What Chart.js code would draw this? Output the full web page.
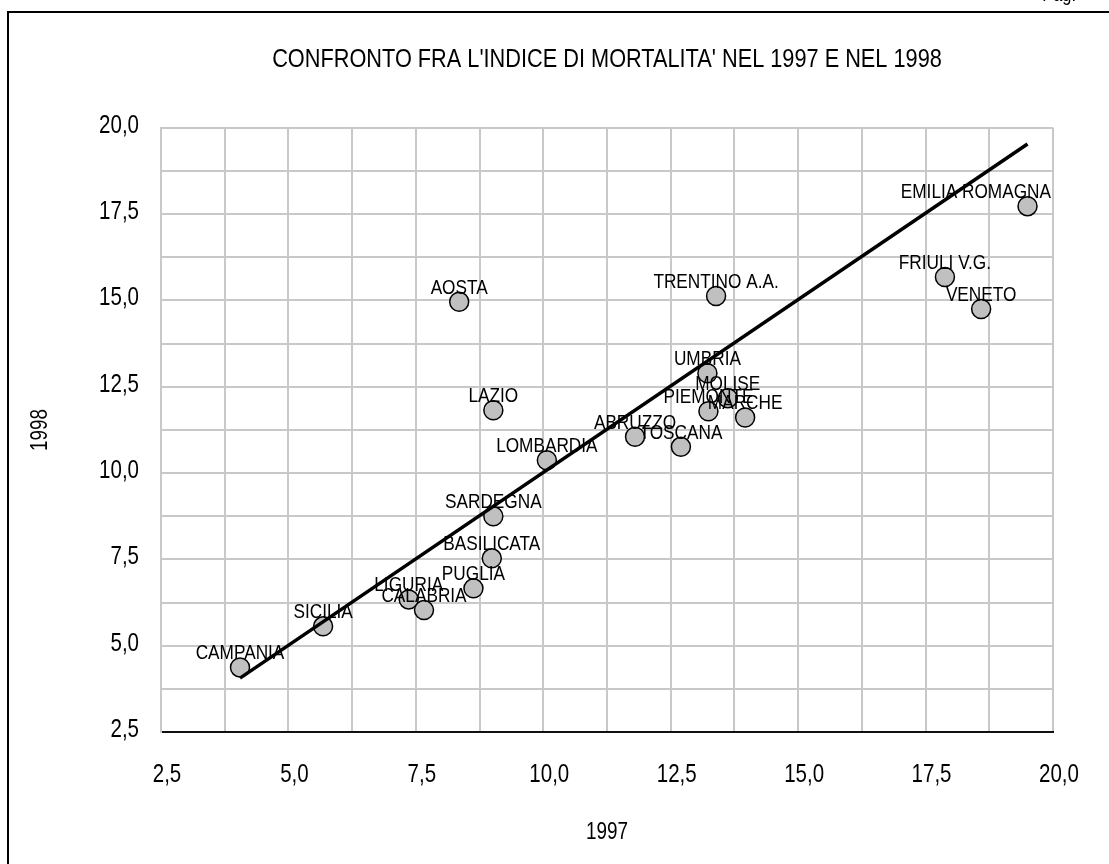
<!DOCTYPE html>
<html>
<head>
<meta charset="utf-8">
<title>Indice di mortalità 1997 / 1998</title>
<script src="https://cdn.jsdelivr.net/npm/chart.js@4.4.1/dist/chart.umd.min.js"></script>
<style>
  html, body { margin: 0; padding: 0; background: #ffffff; }
  #c { display: block; }
</style>
</head>
<body>
<canvas id="c" width="1109" height="864"></canvas>
<script>
// Regioni e indice di mortalità (1997 sull'asse x, 1998 sull'asse y)
const regions = ['CAMPANIA', 'SICILIA', 'LIGURIA', 'CALABRIA', 'PUGLIA', 'BASILICATA', 'SARDEGNA',
  'AOSTA', 'LAZIO', 'LOMBARDIA', 'ABRUZZO', 'TOSCANA', 'UMBRIA', 'PIEMONTE', 'MOLISE', 'MARCHE',
  'TRENTINO A.A.', 'FRIULI V.G.', 'VENETO', 'EMILIA ROMAGNA'];
const index1997 = [4.05, 5.68, 7.36, 7.66, 8.63, 8.99, 9.02,
  8.35, 9.02, 10.07, 11.80, 12.70, 13.22, 13.24, 13.62, 13.96,
  13.39, 17.88, 18.59, 19.50];
const index1998 = [4.37, 5.56, 6.34, 6.03, 6.66, 7.53, 8.75,
  14.96, 11.82, 10.37, 11.05, 10.76, 12.89, 11.79, 12.17, 11.61,
  15.13, 15.68, 14.75, 17.73];

// Retta di tendenza (estremi)
const trend1997 = [4.05, 19.50];
const trend1998 = [4.06, 19.53];

// Etichette degli assi
const tickLabels = ['2,5', '5,0', '7,5', '10,0', '12,5', '15,0', '17,5', '20,0'];
const axisMin = 2.5, axisMax = 20, gridStep = 1.25;

const FONT = "'Liberation Sans', Arial, sans-serif";
const GRID = '#c8c8c8';

// Testo stretto (tipo "narrow"): compressione orizzontale di tutto il testo del grafico
const canvas = document.getElementById('c');
const ctx2d = canvas.getContext('2d');
const SQUEEZE = 0.82;
const rawFillText = ctx2d.fillText.bind(ctx2d);
const rawMeasureText = ctx2d.measureText.bind(ctx2d);
ctx2d.fillText = function (text, x, y) {
  this.save();
  this.translate(x, y);
  this.scale(SQUEEZE, 1);
  rawFillText(text, 0, 0);
  this.restore();
};
ctx2d.measureText = function (text) {
  const m = rawMeasureText(text);
  return {
    width: m.width * SQUEEZE,
    actualBoundingBoxLeft: m.actualBoundingBoxLeft * SQUEEZE,
    actualBoundingBoxRight: m.actualBoundingBoxRight * SQUEEZE,
    actualBoundingBoxAscent: m.actualBoundingBoxAscent,
    actualBoundingBoxDescent: m.actualBoundingBoxDescent,
    fontBoundingBoxAscent: m.fontBoundingBoxAscent,
    fontBoundingBoxDescent: m.fontBoundingBoxDescent
  };
};

const scatterData = regions.map((r, i) => ({ x: index1997[i], y: index1998[i] }));
const trendData = trend1997.map((x, i) => ({ x, y: trend1998[i] }));

function tickText(v) {
  const k = Math.round((v - axisMin) / gridStep);
  return k % 2 === 0 ? tickLabels[k / 2] : '';
}

// Nomi delle regioni sopra i punti
const pointLabels = {
  id: 'pointLabels',
  afterDatasetsDraw(chart) {
    const { ctx, chartArea } = chart;
    const meta = chart.getDatasetMeta(1);
    ctx.save();
    ctx.font = '21px ' + FONT;
    ctx.fillStyle = '#000';
    ctx.textAlign = 'center';
    ctx.textBaseline = 'alphabetic';
    meta.data.forEach((pt, i) => {
      const txt = regions[i];
      const w = ctx.measureText(txt).width;
      let x = pt.x;
      if (x + w / 2 > chartArea.right - 2) x = chartArea.right - 2 - w / 2;
      ctx.fillText(txt, x, pt.y - 8);
    });
    ctx.restore();
  }
};

// Cornice della pagina e intestazione
const pageFrame = {
  id: 'pageFrame',
  afterDraw(chart) {
    const { ctx } = chart;
    ctx.save();
    ctx.strokeStyle = '#000';
    ctx.lineWidth = 2;
    ctx.beginPath();
    ctx.moveTo(8, 870);
    ctx.lineTo(8, 12);
    ctx.lineTo(1115, 12);
    ctx.stroke();
    ctx.font = '20px ' + FONT;
    ctx.fillStyle = '#000';
    ctx.textAlign = 'right';
    ctx.textBaseline = 'alphabetic';
    ctx.fillText('Pag.', 1076, 1);
    ctx.restore();
  }
};

new Chart(canvas, {
  type: 'scatter',
  data: {
    datasets: [
      {
        type: 'line',
        label: 'Tendenza',
        data: trendData,
        borderColor: '#000',
        borderWidth: 3.5,
        pointRadius: 0,
        fill: false,
        tension: 0
      },
      {
        label: 'Regioni',
        data: scatterData,
        pointRadius: 9.5,
        pointHoverRadius: 9.5,
        backgroundColor: '#c0c0c0',
        borderColor: '#000',
        borderWidth: 1.5
      }
    ]
  },
  options: {
    responsive: false,
    animation: false,
    events: [],
    layout: { padding: { left: 0, right: 56, top: 0, bottom: 0 } },
    plugins: {
      legend: { display: false },
      tooltip: { enabled: false },
      title: {
        display: true,
        fullSize: false,
        text: "CONFRONTO FRA L'INDICE DI MORTALITA' NEL 1997 E NEL 1998",
        color: '#000',
        font: { family: FONT, size: 26.5, weight: 'normal', lineHeight: 1.2 },
        padding: { top: 44, bottom: 52 }
      }
    },
    scales: {
      x: {
        type: 'linear',
        min: axisMin,
        max: axisMax,
        afterFit(s) { s.height = 132; },
        ticks: {
          stepSize: gridStep,
          autoSkip: false,
          maxRotation: 0,
          padding: 28,
          labelOffset: 6,
          color: '#000',
          font: { family: FONT, size: 25 },
          callback: tickText
        },
        grid: { color: GRID, lineWidth: 2, drawTicks: false },
        border: { color: '#111', width: 2 },
        title: {
          display: true,
          text: '1997',
          color: '#000',
          font: { family: FONT, size: 23 },
          padding: { top: 0, bottom: 18 }
        }
      },
      y: {
        type: 'linear',
        min: axisMin,
        max: axisMax,
        afterFit(s) { s.width = 161; },
        ticks: {
          stepSize: gridStep,
          autoSkip: false,
          padding: 22,
          labelOffset: -2,
          color: '#000',
          font: { family: FONT, size: 25 },
          callback: tickText
        },
        grid: { color: GRID, lineWidth: 2, drawTicks: false },
        border: { color: GRID, width: 2 },
        title: {
          display: true,
          text: '1998',
          color: '#000',
          font: { family: FONT, size: 23 },
          padding: { top: 27, bottom: 0 }
        }
      }
    }
  },
  plugins: [pointLabels, pageFrame]
});
</script>
</body>
</html>
